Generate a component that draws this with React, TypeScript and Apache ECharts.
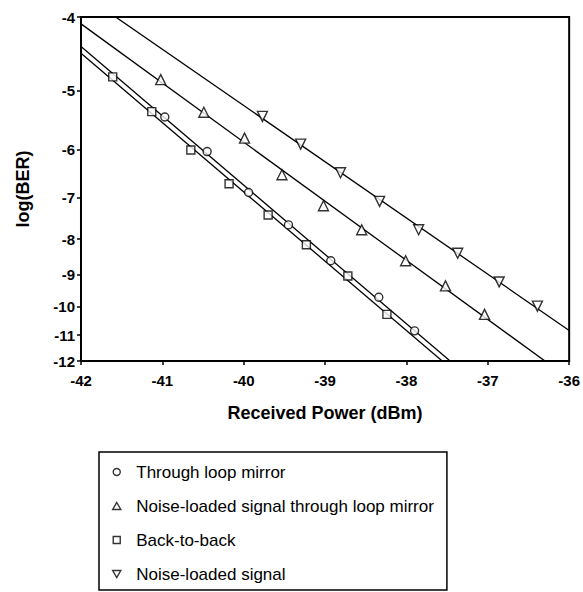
import React, { useEffect, useRef } from 'react';
import * as echarts from 'echarts';

// Tick labels
const xTicks = [-42, -41, -40, -39, -38, -37, -36];
const yTickLabels = [-4, -5, -6, -7, -8, -9, -10, -11, -12];

// Series: x = received power (dBm), y = log(BER)
const throughLoopX = [-40.97, -40.45, -39.94, -39.45, -38.93, -38.34, -37.9];
const throughLoopY = [-5.42, -6.04, -6.88, -7.64, -8.59, -9.69, -10.84];

const noiseLoopX = [-41.02, -40.49, -39.99, -39.53, -39.02, -38.55, -38.01, -37.52, -37.04];
const noiseLoopY = [-4.83, -5.34, -5.79, -6.5, -7.18, -7.76, -8.59, -9.33, -10.26];

const b2bX = [-41.61, -41.13, -40.65, -40.18, -39.7, -39.23, -38.72, -38.24];
const b2bY = [-4.79, -5.33, -6.01, -6.69, -7.4, -8.15, -9.03, -10.26];

const noiseX = [-39.77, -39.3, -38.81, -38.33, -37.85, -37.37, -36.86, -36.39];
const noiseY = [-5.41, -5.9, -6.46, -7.08, -7.76, -8.38, -9.21, -9.98];

const seriesNames = [
  'Through loop mirror',
  'Noise-loaded signal through loop mirror',
  'Back-to-back',
  'Noise-loaded signal',
];

const FONT = '"Liberation Sans", Arial, Helvetica, sans-serif';

const CIRCLE = 'path://M5,0A5,5,0,1,1,5,10A5,5,0,1,1,5,0Z';
const SQUARE = 'path://M0,0L10,0L10,10L0,10Z';
const TRI_UP = 'path://M5,0L10,8.66L0,8.66Z';
const TRI_DOWN = 'path://M0,0L10,0L5,8.66Z';

// Q-factor scale: y = 20 log10(Q), with BER = 0.5 erfc(Q / sqrt 2)
function qOf(logBer: number): number {
  const p = Math.pow(10, logBer);
  const c = [
    -7.784894002430293e-3, -3.223964580411365e-1, -2.400758277161838,
    -2.549732539343734, 4.374664141464968, 2.938163982698783,
  ];
  const d = [7.784695709041462e-3, 3.224671290700398e-1, 2.445134137142996, 3.754408661907416];
  const q = Math.sqrt(-2 * Math.log(p));
  const x =
    (((((c[0] * q + c[1]) * q + c[2]) * q + c[3]) * q + c[4]) * q + c[5]) /
    ((((d[0] * q + d[1]) * q + d[2]) * q + d[3]) * q + 1);
  return -x;
}
const T = (l: number) => 20 * Math.log10(qOf(l));

function fit(xs: number[], ys: number[]) {
  const ts = ys.map(T);
  const n = xs.length;
  const mx = xs.reduce((a, b) => a + b, 0) / n;
  const mt = ts.reduce((a, b) => a + b, 0) / n;
  let sxy = 0;
  let sxx = 0;
  for (let i = 0; i < n; i++) {
    sxy += (xs[i] - mx) * (ts[i] - mt);
    sxx += (xs[i] - mx) * (xs[i] - mx);
  }
  const b = sxy / sxx;
  const a = mt - b * mx;
  const x0 = xTicks[0];
  const x1 = xTicks[xTicks.length - 1];
  return [
    [x0, a + b * x0],
    [x1, a + b * x1],
  ];
}

export default function App() {
  const ref = useRef<HTMLDivElement>(null);
  useEffect(() => {
    if (!ref.current) return;
    const chart = echarts.init(ref.current, undefined, { renderer: 'svg' });
    const tickVals = yTickLabels.map(T);

    const groups = [
      { name: seriesNames[0], xs: throughLoopX, ys: throughLoopY, symbol: CIRCLE, size: 8 },
      { name: seriesNames[1], xs: noiseLoopX, ys: noiseLoopY, symbol: TRI_UP, size: 10 },
      { name: seriesNames[2], xs: b2bX, ys: b2bY, symbol: SQUARE, size: 8 },
      { name: seriesNames[3], xs: noiseX, ys: noiseY, symbol: TRI_DOWN, size: 10 },
    ];

    const series: any[] = [];
    groups.forEach((g, i) => {
      series.push({
        name: 'fit' + i,
        type: 'line',
        data: fit(g.xs, g.ys),
        showSymbol: false,
        symbol: 'none',
        clip: true,
        silent: true,
        lineStyle: { color: '#000', width: 1.3 },
        z: 2,
      });
    });
    groups.forEach((g) => {
      series.push({
        name: g.name,
        type: 'scatter',
        data: g.xs.map((x, i) => [x, T(g.ys[i])]),
        symbol: g.symbol,
        symbolSize: g.size,
        itemStyle: { color: '#fff', borderColor: '#000', borderWidth: 1.4 },
        z: 5,
      });
    });

    chart.setOption({
      animation: false,
      backgroundColor: '#fff',
      grid: {
        left: 81,
        right: 11,
        top: 17,
        bottom: 231,
        show: true,
        borderColor: '#000',
        borderWidth: 2,
        backgroundColor: 'transparent',
      },
      xAxis: {
        type: 'value',
        min: -42,
        max: -36,
        interval: 1,
        name: 'Received Power (dBm)',
        nameLocation: 'middle',
        nameGap: 43,
        nameTextStyle: { fontSize: 18, fontWeight: 'bold', color: '#000', fontFamily: FONT },
        axisLine: { show: true, onZero: false, lineStyle: { color: '#000', width: 2 } },
        axisTick: { show: true, inside: false, length: 4, lineStyle: { color: '#000', width: 1.5 } },
        axisLabel: {
          margin: 12,
          fontSize: 15,
          fontWeight: 'bold',
          color: '#000',
          fontFamily: FONT,
        },
        splitLine: { show: false },
      },
      yAxis: {
        type: 'value',
        inverse: true,
        min: T(yTickLabels[0]),
        max: T(yTickLabels[yTickLabels.length - 1]),
        name: 'log(BER)',
        nameLocation: 'middle',
        nameGap: 49,
        nameRotate: 90,
        nameTextStyle: { fontSize: 18, fontWeight: 'bold', color: '#000', fontFamily: FONT },
        axisLine: { show: true, onZero: false, lineStyle: { color: '#000', width: 2 } },
        axisTick: {
          show: true,
          inside: false,
          length: 4,
          customValues: tickVals,
          lineStyle: { color: '#000', width: 1.5 },
        },
        axisLabel: {
          customValues: tickVals,
          margin: 6,
          fontSize: 15,
          fontWeight: 'bold',
          color: '#000',
          fontFamily: FONT,
          formatter: (v: number) => {
            let best = 0;
            let bd = Infinity;
            tickVals.forEach((t, i) => {
              const dd = Math.abs(t - v);
              if (dd < bd) {
                bd = dd;
                best = i;
              }
            });
            return String(yTickLabels[best]);
          },
        },
        splitLine: { show: false },
      },
      legend: {
        data: [
          { name: seriesNames[0], icon: CIRCLE },
          { name: seriesNames[1], icon: TRI_UP },
          { name: seriesNames[2], icon: SQUARE },
          { name: seriesNames[3], icon: TRI_DOWN },
        ],
        orient: 'vertical',
        left: 99,
        top: 452,
        itemWidth: 29,
        itemHeight: 7,
        itemGap: 16,
        padding: [11, 13, 7, 13],
        borderColor: '#000',
        borderWidth: 1.5,
        selectedMode: false,
        itemStyle: { color: '#fff', borderColor: '#000', borderWidth: 1.4 },
        textStyle: { fontSize: 17, lineHeight: 18, color: '#000', fontFamily: FONT },
      },
      series,
    });
    return () => chart.dispose();
  }, []);
  return (
    <div
      ref={ref}
      style={{ position: 'fixed', left: 0, top: 0, width: 583, height: 592, background: '#fff' }}
    />
  );
}
